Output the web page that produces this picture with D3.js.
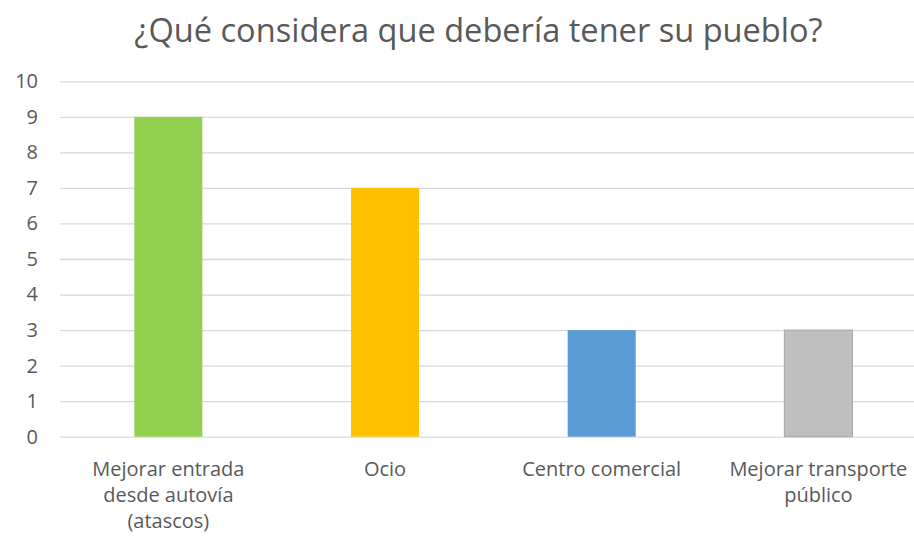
<!DOCTYPE html>
<html><head><meta charset="utf-8">
<script src="https://cdn.jsdelivr.net/npm/d3@7"></script>
<style>html,body{margin:0;padding:0;background:#fff;}</style>
</head><body>
<svg id="c" width="914" height="536"></svg>
<script>
const title = "¿Qué considera que debería tener su pueblo?";
const categories = [
  ["Mejorar entrada", "desde autovía", "(atascos)"],
  ["Ocio"],
  ["Centro comercial"],
  ["Mejorar transporte", "público"]
];
const values = [9, 7, 3, 3];
const colors = ["#92D050", "#FFC000", "#5B9BD5", "#BFBFBF"];
const strokes = ["none", "none", "none", "#A5A5A5"];
const yTicks = [0,1,2,3,4,5,6,7,8,9,10];

const svg = d3.select("#c");
const font = "'Open Sans', sans-serif";
const x = d3.scaleBand().domain(d3.range(categories.length)).range([60, 926.7]).padding(0);
const y = d3.scaleLinear().domain([0, 10]).range([436.7, 81.3]);

svg.append("text").attr("x", 478.5).attr("y", 42).attr("text-anchor", "middle")
  .attr("font-family", font).attr("font-size", 32.6).attr("fill", "#595959").text(title);

const ya = svg.append("g").attr("transform", "translate(60,0)")
  .call(d3.axisLeft(y).tickValues(yTicks).tickSize(-900).tickPadding(22).tickFormat(d3.format("d")));
ya.select(".domain").remove();
ya.selectAll(".tick line").attr("stroke", "#D9D9D9").attr("stroke-width", 1.3);
ya.selectAll(".tick text").attr("font-family", font).attr("font-size", 20).attr("fill", "#595959");

const bw = x.bandwidth() * 0.314;
svg.append("g").selectAll("rect").data(values).join("rect")
  .attr("x", (d, i) => x(i) + x.bandwidth() / 2 - bw / 2)
  .attr("y", d => y(d))
  .attr("width", bw)
  .attr("height", d => y(0) - y(d))
  .attr("fill", (d, i) => colors[i])
  .attr("stroke", (d, i) => strokes[i])
  .attr("stroke-width", 1);

const lab = svg.append("g").selectAll("text").data(categories).join("text")
  .attr("text-anchor", "middle")
  .attr("font-family", font).attr("font-size", 20).attr("fill", "#595959")
  .attr("transform", (d, i) => `translate(${x(i) + x.bandwidth() / 2},476)`);
lab.selectAll("tspan").data(d => d).join("tspan")
  .attr("x", 0).attr("dy", (d, j) => j === 0 ? 0 : 26).text(d => d);
</script>
</body></html>
